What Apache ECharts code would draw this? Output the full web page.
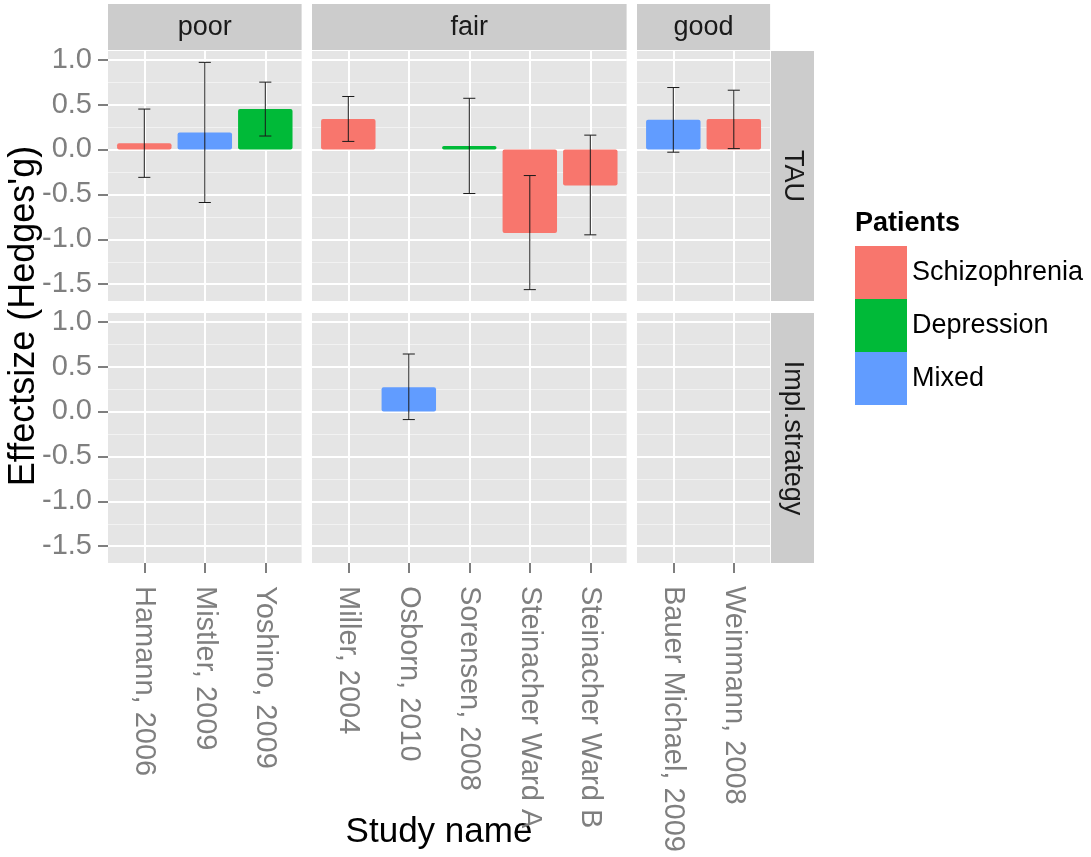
<!DOCTYPE html>
<html>
<head>
<meta charset="utf-8">
<script src="https://cdn.jsdelivr.net/npm/echarts@6/dist/echarts.min.js"></script>
<style>
  html, body { margin: 0; padding: 0; background: #ffffff; }
  #chart { width: 1091px; height: 857px; }
</style>
</head>
<body>
<div id="chart"></div>
<script>
// ---- data ----
const qualityLevels = ['poor', 'fair', 'good'];
const interventions = ['TAU', 'Impl.strategy'];
const patientGroups = ['Schizophrenia', 'Depression', 'Mixed'];
const patientColors = ['#F8766D', '#00BA38', '#619CFF'];

const studyNames = ['Hamann, 2006', 'Mistler, 2009', 'Yoshino, 2009', 'Miller, 2004', 'Osborn, 2010',
  'Sorensen, 2008', 'Steinacher Ward A', 'Steinacher Ward B', 'Bauer Michael, 2009', 'Weinmann, 2008'];
const studyQuality = ['poor', 'poor', 'poor', 'fair', 'fair', 'fair', 'fair', 'fair', 'good', 'good'];
const studyIntervention = ['TAU', 'TAU', 'TAU', 'TAU', 'Impl.strategy', 'TAU', 'TAU', 'TAU', 'TAU', 'TAU'];
const studyPatients = ['Schizophrenia', 'Mixed', 'Depression', 'Schizophrenia', 'Mixed', 'Depression',
  'Schizophrenia', 'Schizophrenia', 'Mixed', 'Schizophrenia'];
const effectSize = [0.07, 0.19, 0.45, 0.34, 0.27, 0.04, -0.93, -0.40, 0.33, 0.34];
const ciLower = [-0.31, -0.59, 0.15, 0.09, -0.09, -0.49, -1.56, -0.95, -0.03, 0.01];
const ciUpper = [0.45, 0.97, 0.75, 0.59, 0.64, 0.57, -0.29, 0.16, 0.69, 0.66];

const yTicks = [-1.5, -1.0, -0.5, 0.0, 0.5, 1.0];
const yMinorTicks = [-1.25, -0.75, -0.25, 0.25, 0.75];

// ---- layout ----
const FONT = '"Liberation Sans", Arial, sans-serif';
const colLeft = [108, 312, 637];
const rowTop = [51, 313];
const panelHeight = 250;
const unitPx = 60.5;          // pixels per discrete x step
const stripTop = 4, stripHeight = 46;
const rightStripLeft = 771, rightStripWidth = 43;

// study names per quality column, in order
const columnStudies = qualityLevels.map(q => studyNames.filter((s, i) => studyQuality[i] === q));
const colWidth = columnStudies.map(list => (list.length + 0.2) * unitPx);

// shared y scale with 5% expansion of the error-bar range
const yLo = Math.min(...ciLower), yHi = Math.max(...ciUpper);
const yPad = 0.05 * (yHi - yLo);
const yMin = yLo - yPad, yMax = yHi + yPad;

const grids = [], xAxes = [], yAxes = [], series = [];

interventions.forEach((iv, r) => {
  qualityLevels.forEach((q, c) => {
    const g = r * 3 + c;
    const names = columnStudies[c];
    const n = names.length;
    const positions = names.map((s, i) => i + 1);
    const isBottom = r === interventions.length - 1;
    const isLeft = c === 0;

    grids.push({
      left: colLeft[c], top: rowTop[r], width: colWidth[c], height: panelHeight,
      show: true, backgroundColor: '#E5E5E5', borderWidth: 0, containLabel: false
    });

    xAxes.push({
      type: 'value', gridIndex: g, min: 0.4, max: n + 0.6, position: 'bottom',
      axisLine: { show: false, onZero: false },
      axisTick: {
        show: isBottom, customValues: positions, length: 10, inside: false,
        lineStyle: { color: '#7F7F7F', width: 2 }
      },
      axisLabel: {
        show: isBottom, customValues: positions, rotate: -90, margin: 23,
        fontFamily: FONT, fontSize: 29, color: '#7F7F7F',
        formatter: v => names[Math.round(v) - 1] || ''
      },
      splitLine: { show: true, lineStyle: { color: '#FFFFFF', width: 2 } }
    });

    yAxes.push({
      type: 'value', gridIndex: g, min: yMin, max: yMax,
      axisLine: { show: false, onZero: false },
      axisTick: {
        show: isLeft, customValues: yTicks, length: 10,
        lineStyle: { color: '#7F7F7F', width: 2 }
      },
      axisLabel: {
        show: isLeft, customValues: yTicks, margin: 16,
        fontFamily: FONT, fontSize: 29, color: '#7F7F7F',
        formatter: v => v.toFixed(1)
      },
      splitLine: { show: true, lineStyle: { color: '#FFFFFF', width: 2 } }
    });
    yAxes.push({
      type: 'value', gridIndex: g, min: yMin, max: yMax, position: 'left',
      axisLine: { show: false, onZero: false },
      axisTick: { show: false, customValues: yMinorTicks },
      axisLabel: { show: false, customValues: yMinorTicks },
      splitLine: { show: true, lineStyle: { color: '#F2F2F2', width: 1 } }
    });

    const idx = studyNames.map((s, i) => i)
      .filter(i => studyQuality[i] === q && studyIntervention[i] === iv);

    patientGroups.forEach((pg, k) => {
      const data = idx.filter(i => studyPatients[i] === pg)
        .map(i => [names.indexOf(studyNames[i]) + 1, effectSize[i]]);
      if (!data.length) return;
      series.push({
        type: 'custom', name: pg, xAxisIndex: g, yAxisIndex: 2 * g,
        itemStyle: { color: patientColors[k] },
        encode: { x: 0, y: 1 },
        z: 2,
        renderItem: (params, api) => {
          const x = api.value(0), y = api.value(1);
          const a = api.coord([x - 0.45, y]);
          const b = api.coord([x + 0.45, 0]);
          return {
            type: 'rect',
            shape: { x: a[0], y: Math.min(a[1], b[1]), width: b[0] - a[0], height: Math.abs(b[1] - a[1]), r: 2 },
            style: { fill: patientColors[k] }
          };
        },
        data
      });
    });

    const errData = idx.map(i => [names.indexOf(studyNames[i]) + 1, ciLower[i], ciUpper[i]]);
    if (errData.length) {
      series.push({
        type: 'custom', name: 'CI', xAxisIndex: g, yAxisIndex: 2 * g,
        encode: { x: 0, y: [1, 2] },
        z: 3, silent: true,
        renderItem: (params, api) => {
          const x = api.value(0);
          const lo = api.coord([x, api.value(1)]);
          const hi = api.coord([x, api.value(2)]);
          const capL = api.coord([x - 0.1, 0])[0];
          const capR = api.coord([x + 0.1, 0])[0];
          const st = { stroke: '#1A1A1A', lineWidth: 1 };
          return {
            type: 'group',
            children: [
              { type: 'line', shape: { x1: lo[0], y1: lo[1], x2: hi[0], y2: hi[1] }, style: st },
              { type: 'line', shape: { x1: capL, y1: lo[1], x2: capR, y2: lo[1] }, style: st },
              { type: 'line', shape: { x1: capL, y1: hi[1], x2: capR, y2: hi[1] }, style: st }
            ]
          };
        },
        data: errData
      });
    }
  });
});

// facet strips, axis titles and legend title
const graphics = [];
qualityLevels.forEach((q, c) => {
  graphics.push({ type: 'rect', shape: { x: colLeft[c], y: stripTop, width: colWidth[c], height: stripHeight },
    style: { fill: '#CCCCCC' }, silent: true });
  graphics.push({ type: 'text', x: colLeft[c] + colWidth[c] / 2, y: stripTop + stripHeight / 2 + 1,
    style: { text: q, font: '27px ' + FONT, fill: '#1A1A1A', align: 'center', verticalAlign: 'middle',
      textAlign: 'center', textVerticalAlign: 'middle' }, silent: true });
});
interventions.forEach((iv, r) => {
  graphics.push({ type: 'rect', shape: { x: rightStripLeft, y: rowTop[r], width: rightStripWidth, height: panelHeight },
    style: { fill: '#CCCCCC' }, silent: true });
  graphics.push({ type: 'text', x: rightStripLeft + rightStripWidth / 2, y: rowTop[r] + panelHeight / 2,
    rotation: -Math.PI / 2,
    style: { text: iv, font: '27px ' + FONT, fill: '#1A1A1A', align: 'center', verticalAlign: 'middle',
      textAlign: 'center', textVerticalAlign: 'middle' }, silent: true });
});
graphics.push({ type: 'text', x: 439, y: 832,
  style: { text: 'Study name', font: '35px ' + FONT, fill: '#000000', align: 'center', verticalAlign: 'middle',
    textAlign: 'center', textVerticalAlign: 'middle' }, silent: true });
graphics.push({ type: 'text', x: 24, y: 316, rotation: Math.PI / 2,
  style: { text: "Effectsize (Hedges'g)", font: '36px ' + FONT, fill: '#000000', align: 'center', verticalAlign: 'middle',
    textAlign: 'center', textVerticalAlign: 'middle' }, silent: true });
graphics.push({ type: 'text', x: 855, y: 224,
  style: { text: 'Patients', font: 'bold 27px ' + FONT, fill: '#000000', align: 'left', verticalAlign: 'middle',
    textAlign: 'left', textVerticalAlign: 'middle' }, silent: true });

const chart = echarts.init(document.getElementById('chart'), null, { renderer: 'canvas' });
chart.setOption({
  backgroundColor: '#FFFFFF',
  animation: false,
  grid: grids,
  xAxis: xAxes,
  yAxis: yAxes,
  legend: {
    data: patientGroups.map((pg, k) => ({ name: pg, icon: 'rect', itemStyle: { color: patientColors[k] } })),
    orient: 'vertical', left: 855, top: 246, padding: 0,
    itemWidth: 52, itemHeight: 53, itemGap: 0,
    selectedMode: false,
    textStyle: { fontFamily: FONT, fontSize: 27, color: '#000000', padding: [0, 0, 0, 0] }
  },
  graphic: graphics,
  series
});
</script>
</body>
</html>
